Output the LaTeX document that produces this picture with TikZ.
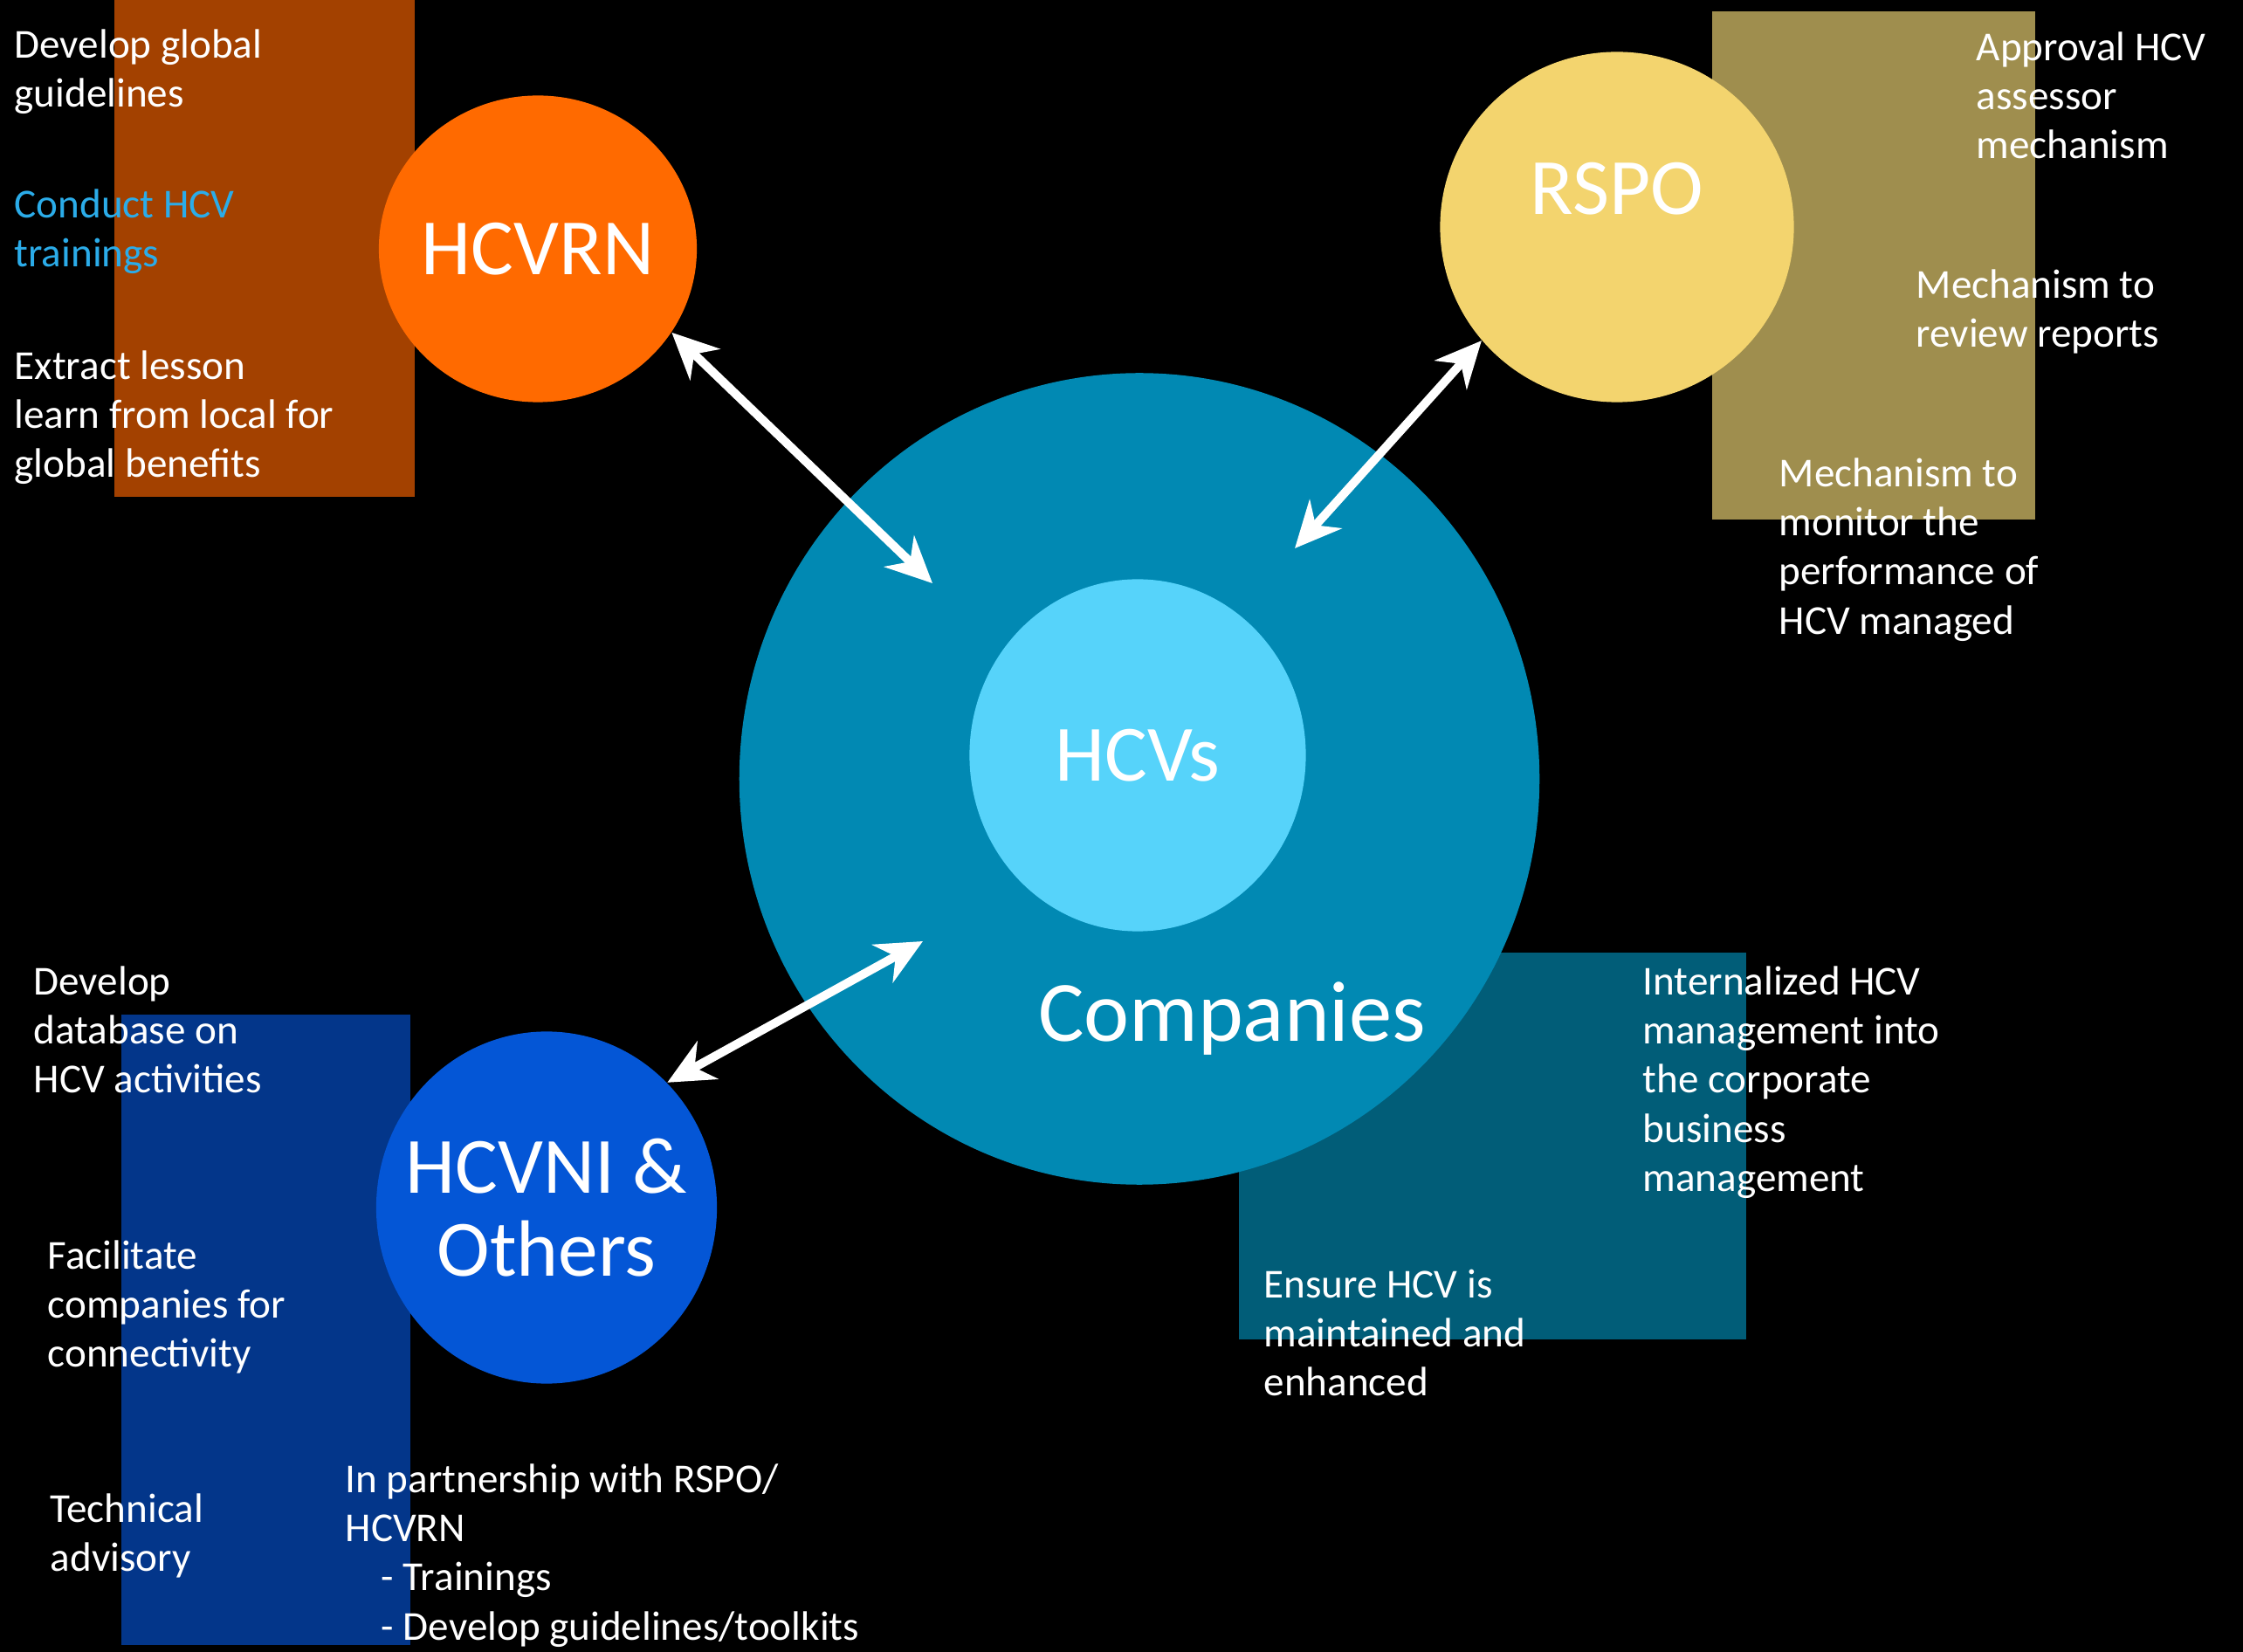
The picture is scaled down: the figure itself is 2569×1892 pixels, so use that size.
\documentclass[tikz,border=0pt]{standalone}
\usepackage{fontspec}
\setmainfont{Carlito}
\usetikzlibrary{positioning,arrows.meta,shapes.geometric}
\definecolor{rnorange}{HTML}{FF6A00}
\definecolor{rnbox}{HTML}{A34100}
\definecolor{rspoyellow}{HTML}{F3D46E}
\definecolor{rspobox}{HTML}{9F8E4E}
\definecolor{compblue}{HTML}{0189B3}
\definecolor{compbox}{HTML}{015D78}
\definecolor{hcvcyan}{HTML}{56D3FA}
\definecolor{hcvniblue}{HTML}{0456D6}
\definecolor{hcvnibox}{HTML}{03368A}
\definecolor{trainblue}{HTML}{2BACE9}

\begin{document}
\begin{tikzpicture}[x=0.01cm, y=-0.01cm,
    blob/.style={ellipse, inner sep=0pt},
    bigtext/.style={text=white, align=center, font=\fontsize{26}{27}\selectfont},
    note/.style={anchor=north west, inner sep=0pt, text=white, align=left, font=\fontsize{13.4}{16}\selectfont},
    biarrow/.style={{Stealth[length=15pt,width=14pt]}-{Stealth[length=15pt,width=14pt]}, line width=2.8pt, white}]
    \fill[black] (0,0) rectangle (2569,1892);
    \useasboundingbox (0,0) rectangle (2569,1892);
    % boxes behind the circles
    \fill[rnbox] (131,0) rectangle (475,569);
    \fill[rspobox] (1961,13) rectangle (2331,595);
    \fill[hcvnibox] (139,1162) rectangle (470,1884);
    \fill[compbox] (1419,1091) rectangle (2000,1534);
    % circles
    \node (companies) [blob, fill=compblue, minimum width=9.16cm, minimum height=9.29cm] at (1305,892) {};
    \node (hcvs)  [blob, fill=hcvcyan, minimum width=3.85cm, minimum height=4.03cm,
                   label={[bigtext]center:HCVs}] at (1303,865) {};
    \node (complbl) [text=white, font=\fontsize{28}{30}\selectfont] at (1411,1167) {Companies};
    \node (hcvrn) [blob, fill=rnorange, minimum width=3.64cm, minimum height=3.51cm,
                   label={[bigtext]center:HCVRN}] at (616,285) {};
    \node (rspo)  [blob, fill=rspoyellow, minimum width=4.05cm, minimum height=4.01cm] at (1852,260) {};
    \node (rspolbl) [bigtext] at (1852,216) {RSPO};
    \node (hcvni) [blob, fill=hcvniblue, minimum width=3.90cm, minimum height=4.03cm,
                   label={[bigtext]center:HCVNI \&\\Others}] at (626,1383) {};
    % arrows
    \coordinate (rnend) at (1068,668);
    \coordinate (rspoend) at (1483,628);
    \coordinate (niend) at (1057,1078);
    \draw[biarrow] (hcvrn.-32) -- (rnend);
    \draw[biarrow] (rspo.220) -- (rspoend);
    \draw[biarrow] (hcvni.46) -- (niend);
    % HCVRN notes
    \node (rnglobal) [note] at (16,33) {Develop global\\guidelines};
    \node (rntrain) [note, text=trainblue] at (16,216) {Conduct HCV\\trainings};
    \node (rnlesson) [note] at (16,401) {Extract lesson\\learn from local for\\global benefits};
    % RSPO notes
    \node (rspoappr) [note] at (2263,36) {Approval HCV\\assessor\\mechanism};
    \node (rsporev) [note] at (2194,308) {Mechanism to\\review reports};
    \node (rspomon) [note] at (2037,524) {Mechanism to\\monitor the\\performance of\\HCV managed};
    % HCVNI notes
    \node (nidb) [note] at (38,1106) {Develop\\database on\\HCV activities};
    \node (nifac) [note] at (54,1420) {Facilitate\\companies for\\connectivity};
    \node (nitech) [note] at (57,1710) {Technical\\advisory};
    \node (nipart) [note] at (395,1676) {In partnership with RSPO/\\HCVRN\\\hspace*{11.7pt}- Trainings\\\hspace*{11.7pt}- Develop guidelines/toolkits};
    % company notes
    \node (compint) [note] at (1881,1106) {Internalized HCV\\management into\\the corporate\\business\\management};
    \node (compens) [note] at (1447,1453) {Ensure HCV is\\maintained and\\enhanced};
\end{tikzpicture}
\end{document}
